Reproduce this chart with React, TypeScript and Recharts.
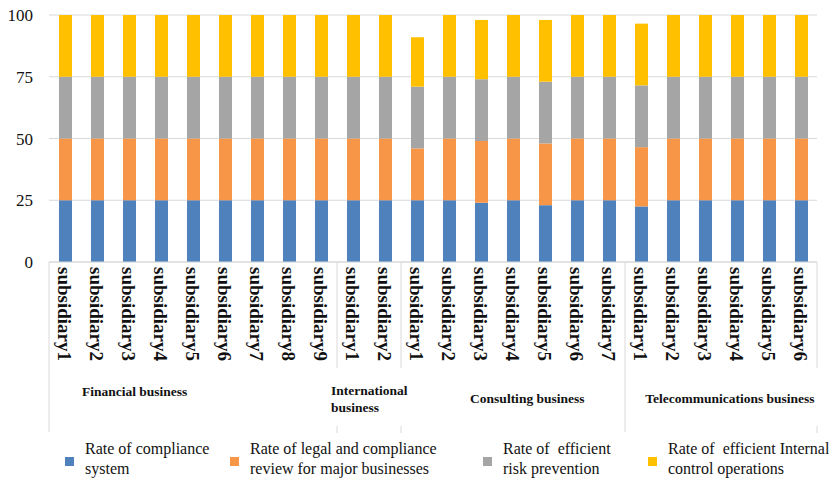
import { BarChart, Bar, XAxis, YAxis, CartesianGrid } from "recharts";

const groupNames = [
  ["Financial business"],
  ["International", "business"],
  ["Consulting business"],
  ["Telecommunications business"],
];
const groupSizes = [9, 2, 7, 6];

const subsidiaries = [
  "subsidiary1", "subsidiary2", "subsidiary3", "subsidiary4", "subsidiary5", "subsidiary6", "subsidiary7", "subsidiary8", "subsidiary9",
  "subsidiary1", "subsidiary2",
  "subsidiary1", "subsidiary2", "subsidiary3", "subsidiary4", "subsidiary5", "subsidiary6", "subsidiary7",
  "subsidiary1", "subsidiary2", "subsidiary3", "subsidiary4", "subsidiary5", "subsidiary6",
];

const complianceSystem = [
  25, 25, 25, 25, 25, 25, 25, 25, 25,
  25, 25,
  25, 25, 24, 25, 23, 25, 25,
  22.5, 25, 25, 25, 25, 25,
];
const legalReview = [
  25, 25, 25, 25, 25, 25, 25, 25, 25,
  25, 25,
  21, 25, 25, 25, 25, 25, 25,
  24, 25, 25, 25, 25, 25,
];
const riskPrevention = [
  25, 25, 25, 25, 25, 25, 25, 25, 25,
  25, 25,
  25, 25, 25, 25, 25, 25, 25,
  25, 25, 25, 25, 25, 25,
];
const internalControl = [
  25, 25, 25, 25, 25, 25, 25, 25, 25,
  25, 25,
  20, 25, 24, 25, 25, 25, 25,
  25, 25, 25, 25, 25, 25,
];

const seriesKeys = ["compliance", "legal", "risk", "control"];
const seriesNames = [
  "Rate of compliance system",
  "Rate of legal and compliance review for major businesses",
  "Rate of  efficient risk prevention",
  "Rate of  efficient Internal control operations",
];
const legendLines = [
  ["Rate of compliance", "system"],
  ["Rate of legal and compliance", "review for major businesses"],
  ["Rate of  efficient", "risk prevention"],
  ["Rate of  efficient Internal", "control operations"],
];
const colors = ["#4F81BD", "#F79646", "#A5A5A5", "#FFC000"];
const yTicks = [0, 25, 50, 75, 100];

// layout
const W = 829;
const H = 479;
const X_H = 217;
const M = { top: 15, right: 12, left: 0, bottom: 0 };
const Y_W = 49;
const STEP = (W - Y_W - M.right) / subsidiaries.length;
const FONT = "'Liberation Serif', 'Times New Roman', serif";
const labelLeft = [1.03, -0.19, 2.16, 0.63]; // in category steps from group start
const labelDy = [129, 128, 136, 136];
const longDivider = [true, false, false, true];
const legendLeft = [65, 230, 483, 648];

const groupStarts: number[] = [];
groupSizes.reduce((acc, n) => {
  groupStarts.push(acc);
  return acc + n;
}, 0);

const data = subsidiaries.map((name, i) => ({
  key: String(i),
  name,
  compliance: complianceSystem[i],
  legal: legalReview[i],
  risk: riskPrevention[i],
  control: internalControl[i],
}));

// eslint-disable-next-line @typescript-eslint/no-explicit-any
function CategoryTick({ x, y, payload, index }: any) {
  const i = payload?.index ?? index;
  const g = groupStarts.indexOf(i);
  const left = x - STEP / 2;
  const tx = x - 1;
  const ty = y + 5;
  return (
    <g>
      <text
        x={tx}
        y={ty}
        transform={`rotate(90 ${tx} ${ty})`}
        fontFamily={FONT}
        fontSize={19}
        fontWeight="bold"
        fill="#111"
        textAnchor="start"
        dominantBaseline="central"
      >
        {subsidiaries[i]}
      </text>
      {g >= 0 && (
        <g>
          <line x1={left} y1={y} x2={left} y2={y + (longDivider[g] ? 170 : 106)} stroke="#d9d9d9" />
          {!longDivider[g] && <line x1={left} y1={y + 164} x2={left} y2={y + 171} stroke="#d9d9d9" />}
          {groupNames[g].map((ln, k) => (
            <text
              key={k}
              x={left + labelLeft[g] * STEP}
              y={y + labelDy[g] + k * 17}
              fontFamily={FONT}
              fontSize={13.5}
              fontWeight="bold"
              fill="#111"
              dominantBaseline="central"
            >
              {ln}
            </text>
          ))}
        </g>
      )}
      {i === subsidiaries.length - 1 && (
        <g>
          <line x1={x + STEP / 2} y1={y} x2={x + STEP / 2} y2={y + 106} stroke="#d9d9d9" />
          <line x1={x + STEP / 2} y1={y + 164} x2={x + STEP / 2} y2={y + 171} stroke="#d9d9d9" />
        </g>
      )}
    </g>
  );
}

function LegendBox() {
  return (
    <div style={{ position: "absolute", left: 0, top: 439, width: W, height: 40, fontFamily: FONT, fontSize: 16, color: "#111" }}>
      {seriesNames.map((s, i) => (
        <div
          key={s}
          style={{ position: "absolute", left: legendLeft[i], top: 0, display: "flex", alignItems: "center" }}
        >
          <span style={{ display: "inline-block", width: 9, height: 9, background: colors[i], marginRight: 11, marginTop: 4 }} />
          <div style={{ lineHeight: "20px", whiteSpace: "pre" }}>
            {legendLines[i].map((ln) => (
              <div key={ln}>{ln}</div>
            ))}
          </div>
        </div>
      ))}
    </div>
  );
}

export default function App() {
  return (
    <div style={{ position: "absolute", left: 0, top: 0, width: W, height: H, background: "#fff" }}>
      <BarChart width={W} height={H} data={data} margin={M}>
        <CartesianGrid vertical={false} stroke="#d9d9d9" />
        <XAxis
          dataKey="key"
          interval={0}
          tickLine={false}
          tickSize={0}
          tickMargin={0}
          axisLine={{ stroke: "#d9d9d9" }}
          height={X_H}
          tick={<CategoryTick />}
        />
        <YAxis
          width={Y_W}
          domain={[0, 100]}
          ticks={yTicks}
          axisLine={false}
          tickLine={false}
          tickSize={0}
          tickMargin={16}
          tick={{ fontFamily: FONT, fontSize: 17, fill: "#111" }}
        />
        {seriesKeys.map((k, i) => (
          <Bar key={k} dataKey={k} name={seriesNames[i]} stackId="a" fill={colors[i]} barSize={13} isAnimationActive={false} />
        ))}
      </BarChart>
      <LegendBox />
    </div>
  );
}
